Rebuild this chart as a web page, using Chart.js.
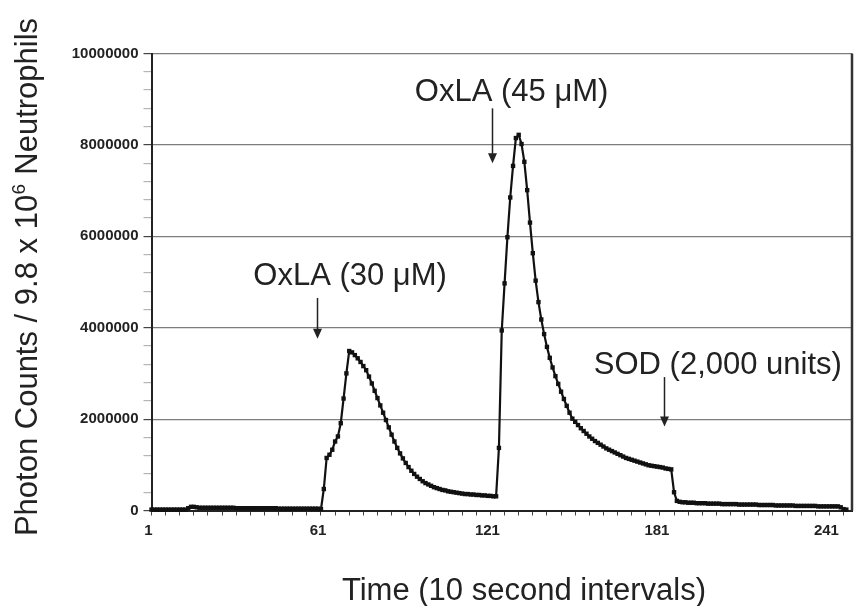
<!DOCTYPE html>
<html>
<head>
<meta charset="utf-8">
<script src="https://cdn.jsdelivr.net/npm/chart.js@4.4.1/dist/chart.umd.min.js"></script>
<style>
  html, body { margin: 0; padding: 0; background: #ffffff; }
  #wrap { width: 856px; height: 606px; position: relative; }
</style>
</head>
<body>
<div id="wrap"><canvas id="chart" width="856" height="606"></canvas></div>
<script>
// Chemiluminescence of neutrophils, one reading per 10 s interval (values in millions of photon counts)
const photonCountsMillions = [
  // intervals 1-61: resting baseline
  0.02, 0.02, 0.02, 0.02, 0.02, 0.02, 0.02, 0.02, 0.02, 0.02, 0.02, 0.02, 0.02,
  0.05, 0.08, 0.08, 0.07,
  0.06, 0.06, 0.06, 0.06, 0.06, 0.06, 0.06, 0.06, 0.06, 0.06, 0.06, 0.06, 0.06,
  0.05, 0.05, 0.05, 0.05, 0.05, 0.05, 0.05, 0.05, 0.05, 0.05, 0.05, 0.05, 0.05, 0.05, 0.05,
  0.04, 0.04, 0.04, 0.04, 0.04, 0.04, 0.04, 0.04, 0.04, 0.04, 0.04, 0.04, 0.04, 0.04, 0.04,
  0.03,
  // OxLA 30 uM response
  0.47, 1.15, 1.22, 1.33, 1.51, 1.62, 1.91, 2.45, 3.00, 3.49,
  3.46, 3.40, 3.33, 3.25, 3.16, 3.07, 2.93, 2.78, 2.62, 2.46,
  2.30, 2.14, 1.98, 1.82, 1.66, 1.51, 1.37, 1.25, 1.14, 1.04,
  0.95, 0.87, 0.80, 0.74, 0.69, 0.64, 0.60, 0.57, 0.54, 0.51,
  0.49, 0.47, 0.45, 0.44, 0.42, 0.41, 0.40, 0.39, 0.38, 0.37,
  0.36, 0.36, 0.35, 0.35, 0.34, 0.34, 0.33, 0.33, 0.32, 0.32,
  0.31, 0.31,
  // OxLA 45 uM response
  1.37, 3.94, 4.97, 5.98, 6.85, 7.54, 8.15, 8.22, 8.02, 7.63,
  7.01, 6.30, 5.63, 5.03, 4.56, 4.18, 3.86, 3.58, 3.34, 3.13,
  2.94, 2.77, 2.60, 2.44, 2.29, 2.14, 2.01,
  1.94, 1.87, 1.80, 1.74, 1.68, 1.62, 1.57, 1.52, 1.48, 1.44,
  1.40, 1.36, 1.33, 1.30, 1.27, 1.24, 1.21, 1.18, 1.15, 1.13,
  1.11, 1.09, 1.07, 1.05, 1.03, 1.01, 0.99, 0.98, 0.97, 0.96,
  0.95, 0.94, 0.92, 0.91, 0.90,
  // after SOD (2,000 units)
  0.40, 0.21,
  0.19, 0.18, 0.18, 0.17, 0.17, 0.17, 0.16, 0.16, 0.16, 0.16,
  0.15, 0.15, 0.15, 0.15, 0.15, 0.14, 0.14, 0.14, 0.14, 0.14,
  0.14, 0.13, 0.13, 0.13, 0.13, 0.13, 0.13, 0.13, 0.12, 0.12,
  0.12, 0.12, 0.12, 0.12, 0.11, 0.11, 0.11, 0.11, 0.11, 0.11,
  0.11, 0.10, 0.10, 0.10, 0.10, 0.10, 0.10, 0.10, 0.10, 0.09,
  0.09, 0.09, 0.09, 0.09, 0.09, 0.09, 0.09,
  0.07, 0.03, 0.02
];

const xTickLabels = [1, 61, 121, 181, 241];
const yTickLabels = [0, 2000000, 4000000, 6000000, 8000000, 10000000];

const xTitle = 'Time (10 second intervals)';
const yTitleParts = ['Photon Counts / 9.8 x 10', '6', ' Neutrophils'];

// Addition markers: label text, arrow interval, arrow tip / top (millions), label anchor (interval, millions)
const additions = [
  { text: 'OxLA (30 \u03bcM)', arrowAt: 59.5, tip: 3.76, top: 4.65, labelAt: 71.3, labelBase: 4.93 },
  { text: 'OxLA (45 \u03bcM)', arrowAt: 121.4, tip: 7.60, top: 8.80, labelAt: 128.5, labelBase: 8.96 },
  { text: 'SOD (2,000 units)', arrowAt: 182.5, tip: 1.84, top: 2.92, labelAt: 201.5, labelBase: 2.99 }
];

const INK = '#222222';
const FONT = '"Liberation Sans", Arial, Helvetica, sans-serif';

const points = photonCountsMillions.map((v, k) => ({ x: k + 1, y: v }));
const isMajor = v => yTickLabels.includes(Math.round(v * 1e6));

const decorations = {
  id: 'decorations',
  afterDraw(chart) {
    const { ctx, chartArea, scales } = chart;
    const xs = scales.x, ys = scales.y;
    ctx.save();

    // right frame edge of the plot
    ctx.strokeStyle = '#333333';
    ctx.lineWidth = 2.5;
    ctx.beginPath();
    ctx.moveTo(chartArea.right, chartArea.top);
    ctx.lineTo(chartArea.right, chartArea.bottom);
    ctx.stroke();

    // addition labels with down arrows
    ctx.fillStyle = INK;
    ctx.strokeStyle = INK;
    ctx.font = '31px ' + FONT;
    ctx.textAlign = 'center';
    ctx.textBaseline = 'alphabetic';
    additions.forEach(a => {
      ctx.fillText(a.text, xs.getPixelForValue(a.labelAt), ys.getPixelForValue(a.labelBase));
      const ax = Math.round(xs.getPixelForValue(a.arrowAt)) + 0.5;
      const ay0 = ys.getPixelForValue(a.top);
      const ay1 = ys.getPixelForValue(a.tip);
      ctx.lineWidth = 1.5;
      ctx.beginPath();
      ctx.moveTo(ax, ay0);
      ctx.lineTo(ax, ay1 - 8);
      ctx.stroke();
      ctx.beginPath();
      ctx.moveTo(ax - 4.5, ay1 - 10);
      ctx.lineTo(ax + 4.5, ay1 - 10);
      ctx.lineTo(ax, ay1);
      ctx.closePath();
      ctx.fill();
    });

    // x axis title
    ctx.font = '31px ' + FONT;
    ctx.textAlign = 'center';
    ctx.fillText(xTitle, 524, 600);

    // y axis title with superscript exponent
    const big = '31px ' + FONT, small = '19px ' + FONT;
    ctx.font = big;
    const w1 = ctx.measureText(yTitleParts[0]).width;
    const w3 = ctx.measureText(yTitleParts[2]).width;
    ctx.font = small;
    const w2 = ctx.measureText(yTitleParts[1]).width + 1;
    const total = w1 + w2 + w3;
    ctx.translate(37, 277);
    ctx.rotate(-Math.PI / 2);
    ctx.textAlign = 'left';
    let cx = -total / 2;
    ctx.font = big;
    ctx.fillText(yTitleParts[0], cx, 0);
    cx += w1 + 0.5;
    ctx.font = small;
    ctx.fillText(yTitleParts[1], cx, -12);
    cx += w2 - 0.5;
    ctx.font = big;
    ctx.fillText(yTitleParts[2], cx, 0);
    ctx.restore();
  }
};

new Chart(document.getElementById('chart'), {
  type: 'line',
  data: {
    datasets: [{
      data: points,
      borderColor: '#111111',
      borderWidth: 2.2,
      pointStyle: 'rect',
      pointRadius: 3.1,
      pointBackgroundColor: '#111111',
      pointBorderWidth: 0,
      tension: 0,
      clip: false
    }]
  },
  options: {
    responsive: false,
    animation: false,
    devicePixelRatio: 1,
    layout: { padding: { top: 53.5, right: 2, left: 0, bottom: 0 } },
    plugins: { legend: { display: false }, tooltip: { enabled: false } },
    scales: {
      x: {
        type: 'linear',
        min: 1,
        max: 249,
        afterFit(scale) { scale.height = 95.5; },
        afterBuildTicks(scale) {
          const t = [];
          for (let v = 1; v <= 246; v += 5) t.push({ value: v });
          scale.ticks = t;
        },
        border: { display: true, color: '#222222', width: 2 },
        grid: { drawOnChartArea: false, drawTicks: true, tickLength: 5, tickColor: '#444444', lineWidth: 1 },
        ticks: {
          autoSkip: false,
          maxRotation: 0,
          padding: 6,
          labelOffset: -3,
          color: INK,
          font: { family: FONT, size: 15, weight: 'bold' },
          callback: v => (xTickLabels.includes(v) ? String(v) : '')
        }
      },
      y: {
        min: 0,
        max: 10,
        afterFit(scale) { scale.width = 151.5; },
        afterBuildTicks(scale) {
          const t = [];
          for (let k = 0; k <= 25; k++) t.push({ value: k * 0.4 });
          scale.ticks = t;
        },
        border: { display: true, color: '#222222', width: 2 },
        grid: {
          drawOnChartArea: true,
          tickLength: 8,
          lineWidth: 1.2,
          color: c => (isMajor(c.tick.value) ? '#7d7d7d' : 'rgba(0,0,0,0)'),
          tickColor: c => (isMajor(c.tick.value) ? '#444444' : '#b5b5b5')
        },
        ticks: {
          autoSkip: false,
          padding: 5,
          color: INK,
          font: { family: FONT, size: 15, weight: 'bold' },
          callback: v => (isMajor(v) ? String(Math.round(v * 1e6)) : '')
        }
      }
    }
  },
  plugins: [decorations]
});
</script>
</body>
</html>
